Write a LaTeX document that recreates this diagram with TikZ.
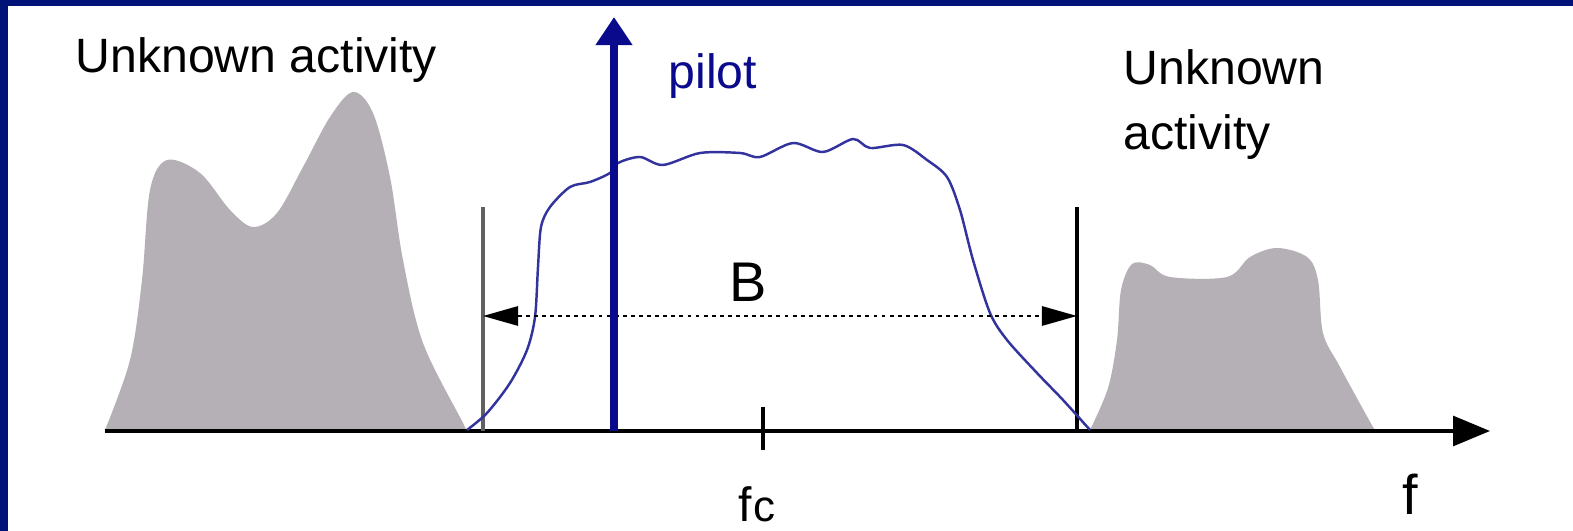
\documentclass[tikz,border=0pt]{standalone}
\usepackage{fontspec}
\setmainfont{Liberation Sans}
\usetikzlibrary{arrows.meta}
\definecolor{FrameClr}{rgb}{0,0.07,0.47}
\definecolor{PilotClr}{rgb}{0.04,0.04,0.55}
\definecolor{CurveClr}{rgb}{0.2,0.2,0.62}
\definecolor{ShapeClr}{rgb}{0.71,0.69,0.71}
\definecolor{BarClr}{rgb}{0.38,0.38,0.38}

\begin{document}
\begin{tikzpicture}[x=0.01cm,y=-0.01cm,
  lbl/.style={inner sep=0pt,font=\fontsize{13.7}{18.5}\selectfont},
  biglbl/.style={inner sep=0pt,font=\fontsize{15.9}{19}\selectfont}]
\useasboundingbox (0,0) rectangle (1573,531);

% frame
\fill[FrameClr] (0,0) rectangle (1573,6);
\fill[FrameClr] (0,0) rectangle (8,531);

% other signals
\fill[ShapeClr] plot[smooth,tension=0.55] coordinates {(105,430) (130,360) (142,280) (150,190) (167,160)
  (200,173) (230,210) (253,227) (277,213) (303,167) (330,117) (353,92) (373,113)
  (390,177) (403,260) (423,343) (463,423) (466,430)} -- cycle;
\fill[ShapeClr] plot[smooth,tension=0.55] coordinates {(1090,430) (1108,388) (1117,340) (1121,290)
  (1132,264) (1150,265) (1170,277) (1227,277) (1250,257) (1277,248) (1307,257)
  (1318,280) (1323,333) (1340,367) (1373,427) (1376,430)} -- cycle;

\coordinate (O) at (105,431);
\coordinate (E) at (1490,431);
\coordinate (P0) at (614,431);
\coordinate (P1) at (614,17);
\coordinate (L0) at (483,431);
\coordinate (L1) at (483,207);
\coordinate (R0) at (1077,431);
\coordinate (R1) at (1077,207);
\coordinate (BL) at (483,316);
\coordinate (BR) at (1077,316);
\coordinate (T0) at (763,407);
\coordinate (T1) at (763,450);

% axis
\draw[line width=0.9pt,-{Triangle[length=10.5pt,width=8.5pt]}] (O) -- (E);
\draw[line width=0.9pt] (T0) -- (T1);
\draw[line width=0.9pt,BarClr] (L0) -- (L1);
\draw[line width=0.9pt] (R0) -- (R1);

% spectrum
\draw[CurveClr,line width=0.7pt] plot[smooth,tension=0.5] coordinates {(467,430) (487,413) (510,383)
  (527,350) (535,317) (538,267) (541,227) (550,207) (570,187) (590,182) (610,173)
  (618,163) (640,157) (663,165) (700,153) (740,153) (760,157) (793,143) (823,152)
  (853,139) (870,148) (903,145) (927,160) (947,177) (960,210) (973,260) (990,313)
  (1007,340) (1037,373) (1063,400) (1090,430)};

% bandwidth
\draw[line width=0.6pt,dash pattern=on 1.1pt off 1.2pt,
  {Triangle[length=10pt,width=5.5pt]}-{Triangle[length=10pt,width=5.5pt]}] (BL) -- (BR);

% pilot
\draw[PilotClr,line width=2.4pt,-{Triangle[length=8pt,width=10pt]}] (P0) -- (P1);

\node[lbl,anchor=base west] (actl) at (75,73) {Unknown activity};
\node[lbl,anchor=north west,align=left] (actr) at (1123,49) {Unknown\\activity};
\node[lbl,anchor=base west,text=PilotClr] (pilot) at (668,89) {pilot};
\node[biglbl,anchor=base] (bw) at (748,302) {B};
\node[biglbl,anchor=base] (freq) at (1410,515) {f};
\node[lbl,anchor=base west] (fc) at (738,522) {f\kern0.3pt{\fontsize{12.5}{12.5}\selectfont c}};
\end{tikzpicture}
\end{document}
